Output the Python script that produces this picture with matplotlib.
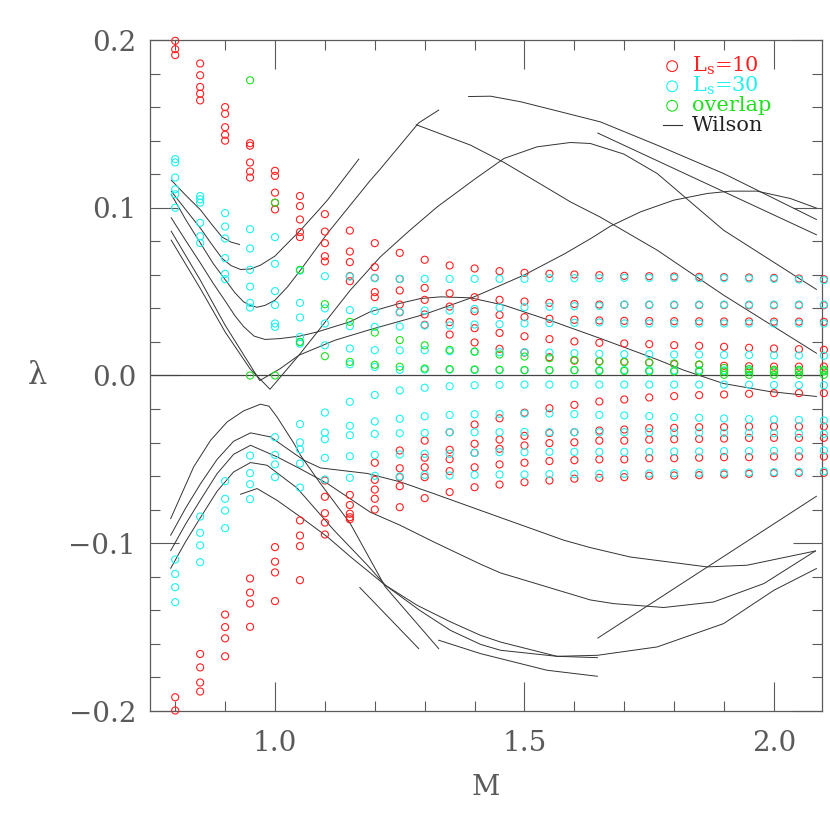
import numpy as np
import matplotlib
matplotlib.use("Agg")
import matplotlib.pyplot as plt
from matplotlib.ticker import MultipleLocator, FixedLocator

plt.rcParams['font.family'] = ['DejaVu Serif']
plt.rcParams['mathtext.fontset'] = 'dejavuserif'

# quark mass columns
M = [0.80, 0.85, 0.90, 0.95, 1.00, 1.05, 1.10, 1.15, 1.20, 1.25, 1.30, 1.35, 1.40, 1.45,
     1.50, 1.55, 1.60, 1.65, 1.70, 1.75, 1.80, 1.85, 1.90, 1.95, 2.00, 2.05, 2.10]

# Ls=10 eigenvalues, one list per M column
ls10_pos = [
    [0.1995, 0.1945, 0.191],
    [0.186, 0.179, 0.172, 0.168, 0.164],
    [0.160, 0.156, 0.148, 0.1435, 0.140],
    [0.1385, 0.137, 0.127, 0.1216, 0.118],
    [0.122, 0.119, 0.109, 0.103, 0.099],
    [0.107, 0.101, 0.093, 0.0855, 0.0825],
    [0.0962, 0.0858, 0.0789, 0.0711, 0.068],
    [0.0864, 0.0739, 0.0676, 0.0592, 0.0562],
    [0.0789, 0.0646, 0.0582, 0.0497, 0.0467],
    [0.0731, 0.0575, 0.0507, 0.0423, 0.0377],
    [0.069, 0.0522, 0.0451, 0.0364, 0.0302],
    [0.0656, 0.049, 0.0411, 0.0318, 0.0244],
    [0.0638, 0.0467, 0.0383, 0.0282, 0.0197],
    [0.0622, 0.0451, 0.0361, 0.0254, 0.0159],
    [0.0612, 0.0441, 0.0348, 0.0234, 0.0137],
    [0.0606, 0.0433, 0.0338, 0.0217, 0.0109],
    [0.0602, 0.0426, 0.0332, 0.0203, 0.0089],
    [0.0598, 0.0423, 0.0328, 0.0195, 0.0085],
    [0.0594, 0.0422, 0.0326, 0.0191, 0.0082],
    [0.0592, 0.0421, 0.0325, 0.0187, 0.0078],
    [0.059, 0.042, 0.0324, 0.0181, 0.0068],
    [0.0588, 0.042, 0.0323, 0.0177, 0.0064],
    [0.0586, 0.042, 0.0322, 0.0171, 0.0058],
    [0.0584, 0.0419, 0.0322, 0.0165, 0.0055],
    [0.0582, 0.0419, 0.0321, 0.0161, 0.0053],
    [0.0578, 0.0419, 0.0321, 0.0157, 0.0053],
    [0.0574, 0.0419, 0.032, 0.0153, 0.0053],
]
ls10_neg = [
    [-0.1918, -0.1997],
    [-0.166, -0.174, -0.183, -0.1884],
    [-0.1425, -0.150, -0.1567, -0.1674],
    [-0.121, -0.1294, -0.1359, -0.1498],
    [-0.1023, -0.111, -0.1174, -0.1345],
    [-0.0864, -0.0954, -0.1017, -0.122],
    [-0.0626, -0.0723, -0.0821, -0.0877, -0.0948],
    [-0.0712, -0.0772, -0.0824, -0.0845, -0.0857],
    [-0.052, -0.0622, -0.068, -0.0735, -0.0799],
    [-0.0447, -0.0553, -0.0606, -0.066, -0.0785],
    [-0.0388, -0.049, -0.0547, -0.0606, -0.0731],
    [-0.0338, -0.0443, -0.0499, -0.057, -0.0695],
    [-0.0292, -0.0407, -0.0461, -0.0547, -0.0666],
    [-0.0255, -0.0382, -0.0437, -0.053, -0.065],
    [-0.0222, -0.036, -0.0417, -0.052, -0.0636],
    [-0.0195, -0.0343, -0.0403, -0.051, -0.0626],
    [-0.0175, -0.0338, -0.0398, -0.0505, -0.0615],
    [-0.0155, -0.0328, -0.0388, -0.05, -0.061],
    [-0.0143, -0.0322, -0.0388, -0.05, -0.0606],
    [-0.0131, -0.0314, -0.0382, -0.0493, -0.0598],
    [-0.0123, -0.0312, -0.038, -0.0493, -0.0596],
    [-0.0117, -0.0308, -0.0378, -0.049, -0.0594],
    [-0.0113, -0.0308, -0.0376, -0.0487, -0.059],
    [-0.0109, -0.0304, -0.0372, -0.0487, -0.0586],
    [-0.0105, -0.0304, -0.0372, -0.0483, -0.0582],
    [-0.0105, -0.0304, -0.0372, -0.0483, -0.058],
    [-0.0105, -0.0304, -0.0372, -0.0483, -0.058],
]

# Ls=30 eigenvalues
ls30_pos = [
    [0.129, 0.127, 0.118, 0.111, 0.108, 0.100],
    [0.107, 0.105, 0.103, 0.091, 0.083, 0.079],
    [0.0968, 0.0888, 0.0817, 0.070, 0.0606, 0.0574],
    [0.0872, 0.0757, 0.063, 0.053, 0.0433, 0.0405],
    [0.0825, 0.0666, 0.0503, 0.042, 0.031, 0.029],
    [0.0625, 0.0433, 0.0346, 0.023, 0.020, 0.019],
    [0.0592, 0.040, 0.031, 0.018],
    [0.059, 0.039, 0.0294, 0.0161, 0.0067],
    [0.058, 0.0385, 0.029, 0.0151, 0.0051],
    [0.0576, 0.038, 0.0292, 0.015, 0.0034],
    [0.0576, 0.0387, 0.0298, 0.0151, 0.0035],
    [0.0576, 0.0387, 0.0298, 0.0145, 0.0035],
    [0.0576, 0.0397, 0.0304, 0.0141, 0.0033],
    [0.0576, 0.0405, 0.0306, 0.0139, 0.0033],
    [0.0576, 0.0407, 0.031, 0.0139, 0.0032],
    [0.058, 0.041, 0.0312, 0.0137, 0.0032],
    [0.058, 0.0413, 0.0314, 0.0133, 0.0032],
    [0.058, 0.0415, 0.0316, 0.0129, 0.0032],
    [0.0582, 0.0423, 0.031, 0.0127, 0.0032],
    [0.0582, 0.0423, 0.031, 0.0127, 0.0032],
    [0.0582, 0.0423, 0.031, 0.0125, 0.0031],
    [0.058, 0.0423, 0.031, 0.0125, 0.0031],
    [0.058, 0.0423, 0.031, 0.0123, 0.0031],
    [0.0578, 0.0423, 0.031, 0.0122, 0.003],
    [0.0576, 0.0423, 0.031, 0.012, 0.003],
    [0.0572, 0.0423, 0.031, 0.0119, 0.003],
    [0.0568, 0.0423, 0.031, 0.0118, 0.003],
]
ls30_neg = [
    [-0.1097, -0.1183, -0.1262, -0.1351],
    [-0.0841, -0.0938, -0.1012, -0.1113],
    [-0.063, -0.0735, -0.0805, -0.091],
    [-0.0477, -0.0582, -0.0648, -0.0737],
    [-0.0368, -0.0473, -0.053, -0.0606],
    [-0.029, -0.0398, -0.0441, -0.0525, -0.0668],
    [-0.0221, -0.034, -0.038, -0.0491, -0.062],
    [-0.0157, -0.030, -0.0356, -0.0481, -0.061],
    [-0.0116, -0.0274, -0.0348, -0.0473, -0.0598],
    [-0.0089, -0.0258, -0.0344, -0.0471, -0.0602],
    [-0.0073, -0.0243, -0.0342, -0.0467, -0.0592],
    [-0.0064, -0.0235, -0.0338, -0.0467, -0.0596],
    [-0.0058, -0.0231, -0.0338, -0.0461, -0.0592],
    [-0.0056, -0.0229, -0.0338, -0.0457, -0.059],
    [-0.0054, -0.0227, -0.0336, -0.0457, -0.059],
    [-0.0054, -0.0227, -0.0338, -0.0455, -0.0588],
    [-0.0054, -0.023, -0.0338, -0.0455, -0.0588],
    [-0.0054, -0.0235, -0.0338, -0.0455, -0.0586],
    [-0.0054, -0.0238, -0.0338, -0.0455, -0.0586],
    [-0.0054, -0.0242, -0.0338, -0.0455, -0.0584],
    [-0.0054, -0.0248, -0.034, -0.0453, -0.0582],
    [-0.0054, -0.0252, -0.034, -0.0453, -0.058],
    [-0.0054, -0.0256, -0.0342, -0.0451, -0.058],
    [-0.0055, -0.026, -0.0342, -0.0451, -0.0578],
    [-0.0056, -0.0262, -0.0344, -0.0449, -0.0576],
    [-0.0057, -0.0265, -0.0346, -0.0449, -0.0574],
    [-0.0058, -0.0268, -0.0348, -0.0447, -0.0571],
]

# overlap operator eigenvalues
overlap = [
    [], [], [],
    [0.176, 0.0],
    [0.103, 0.0],
    [0.063, 0.020],
    [0.0425, 0.0115],
    [0.032, 0.0081],
    [0.0256, 0.0064],
    [0.0211, 0.0052],
    [0.018, 0.0042],
    [0.0153, 0.0038],
    [0.0143, 0.0036],
    [0.0125, 0.0034],
    [0.0113, 0.0032],
    [0.0103, 0.0032],
    [0.0093, 0.0032],
    [0.0083, 0.0027],
    [0.008, 0.0027],
    [0.0077, 0.0024],
    [0.0072, 0.0024],
    [0.0066, 0.0024],
    [0.0045, 0.0024, 0.0004],
    [0.0038, 0.0024, 0.0004],
    [0.0034, 0.0024, 0.0004],
    [0.0034, 0.0024, 0.0004],
    [0.0034, 0.0024, 0.0004],
]

# Wilson flow lines, (M, lambda)
wilson_upper = [
    ([0.792, 0.821, 0.851, 0.874, 0.894, 0.912, 0.929],
     [0.1165, 0.1075, 0.0986, 0.0898, 0.0825, 0.0795, 0.0781]),
    ([0.792, 0.822, 0.851, 0.874, 0.894, 0.912, 0.931, 0.951, 0.971, 1.0, 1.018, 1.051, 1.085, 1.105, 1.168],
     [0.1099, 0.0985, 0.0876, 0.0779, 0.0698, 0.0655, 0.0632, 0.0635, 0.0658, 0.0712, 0.0767, 0.0866,
      0.0978, 0.1045, 0.129]),
    ([0.792, 0.822, 0.851, 0.876, 0.901, 0.92, 0.937, 0.95, 0.964, 0.98, 1.0, 1.025, 1.051, 1.105,
      1.191, 1.211, 1.288, 1.328],
     [0.108, 0.0925, 0.0787, 0.0668, 0.0568, 0.0492, 0.0439, 0.0418, 0.0407, 0.0418, 0.0449, 0.0528,
      0.0628, 0.0847, 0.1163, 0.1231, 0.1506, 0.1582]),
    ([1.283, 1.392, 1.459, 1.525, 1.592, 1.652, 1.766, 1.899, 2.085],
     [0.1495, 0.1373, 0.127, 0.1154, 0.1035, 0.0944, 0.0747, 0.0479, 0.0133]),
    ([1.388, 1.432, 1.492, 1.559, 1.652, 1.766, 1.899, 2.085],
     [0.1663, 0.1665, 0.1632, 0.1582, 0.1512, 0.1373, 0.1204, 0.093]),
    ([1.647, 2.085], [0.1445, 0.0839]),
    ([0.792, 0.85, 0.90, 0.95, 0.99, 1.048, 1.085, 1.151, 1.211, 1.27, 1.325, 1.40, 1.459, 1.525,
      1.592, 1.632, 1.699, 1.766, 1.899, 2.085],
     [0.0807, 0.052, 0.026, 0.004, -0.0082, 0.0121, 0.026, 0.0509, 0.0707, 0.0865, 0.1005, 0.117,
      0.1294, 0.1363, 0.1389, 0.1383, 0.132, 0.1204, 0.0866, 0.0513]),
    ([0.792, 0.85, 0.90, 0.94, 0.9695, 1.01, 1.048, 1.12, 1.191, 1.30, 1.40, 1.50, 1.58, 1.632,
      1.672, 1.733, 1.799, 1.866, 1.913, 1.966, 2.033, 2.085],
     [0.086, 0.057, 0.030, 0.011, -0.003, 0.004, 0.0121, 0.021, 0.0274, 0.0365, 0.047, 0.060, 0.0725,
      0.0815, 0.089, 0.0976, 0.1045, 0.1085, 0.1099, 0.1099, 0.1055, 0.0998]),
    ([0.792, 0.822, 0.851, 0.876, 0.90, 0.92, 0.937, 0.958, 0.98, 1.01, 1.05, 1.085, 1.15, 1.191,
      1.25, 1.292, 1.332, 1.392, 1.459, 1.559, 1.652, 1.766, 1.819, 1.899, 1.99, 2.085],
     [0.094, 0.080, 0.0668, 0.055, 0.0445, 0.0355, 0.0292, 0.0235, 0.0215, 0.022, 0.0235, 0.026,
      0.032, 0.038, 0.043, 0.0459, 0.0469, 0.0463, 0.0419, 0.032, 0.0221, 0.0095, 0.0032, -0.0048,
      -0.0095, -0.0125]),
]
wilson_lower = [
    ([0.791, 0.837, 0.871, 0.904, 0.937, 0.971, 0.988, 1.004, 1.038, 1.051, 1.091, 1.151, 1.221, 1.328],
     [-0.0853, -0.0545, -0.0386, -0.0277, -0.0211, -0.0171, -0.0183, -0.0247, -0.0405, -0.0475,
      -0.0644, -0.0883, -0.126, -0.1628]),
    ([0.791, 0.821, 0.851, 0.884, 0.917, 0.951, 0.991, 1.024, 1.058, 1.091, 1.185, 1.251, 1.318, 1.452,
      1.579, 1.632, 1.712, 1.866, 1.946, 2.083],
     [-0.0952, -0.0790, -0.0644, -0.0500, -0.0392, -0.0342, -0.0366, -0.0435, -0.0505, -0.0551, -0.0584,
      -0.0634, -0.0704, -0.0847, -0.0982, -0.1026, -0.1082, -0.1141, -0.1131, -0.1046]),
    ([0.791, 0.821, 0.851, 0.884, 0.917, 0.951, 1.004, 1.051, 1.105, 1.191, 1.251, 1.318, 1.412, 1.452,
      1.545, 1.632, 1.679, 1.779, 1.879, 1.98, 2.083],
     [-0.1044, -0.0885, -0.0740, -0.0585, -0.0470, -0.0416, -0.0485, -0.0557, -0.0644, -0.0815, -0.0893,
      -0.0992, -0.1125, -0.1177, -0.126, -0.1338, -0.136, -0.1383, -0.135, -0.124, -0.1046]),
    ([0.791, 0.821, 0.851, 0.884, 0.917, 0.951, 0.984, 1.044, 1.118, 1.185, 1.221, 1.285, 1.352, 1.412,
      1.452, 1.565, 1.646, 1.766, 1.899, 2.0, 2.085],
     [-0.1149, -0.0990, -0.0845, -0.0690, -0.0575, -0.0519, -0.0535, -0.067, -0.0922, -0.113, -0.125,
      -0.137, -0.1469, -0.1549, -0.1589, -0.1674, -0.1668, -0.1618, -0.1479, -0.128, -0.1151]),
    ([0.931, 0.964, 1.004, 1.051, 1.105, 1.151, 1.221, 1.29, 1.352, 1.412, 1.452, 1.565, 1.646],
     [-0.0708, -0.0674, -0.0744, -0.0843, -0.0962, -0.108, -0.125, -0.140, -0.152, -0.1603,
      -0.1638, -0.1674, -0.1682]),
    ([1.17, 1.288], [-0.1264, -0.1628]),
    ([1.328, 1.412, 1.545, 1.646], [-0.1578, -0.1658, -0.1757, -0.1793]),
    ([1.647, 2.085], [-0.1565, -0.072]),
]

grey = '#5a5a5a'

fig = plt.figure(figsize=(8.3, 8.3), dpi=100)
ax = fig.add_axes([150 / 830, 119 / 830, 672 / 830, 671 / 830])


def flatten(cols):
    xs, ys = [], []
    for m, vals in zip(M, cols):
        for v in vals:
            xs.append(m)
            ys.append(v)
    return xs, ys


# Wilson lines
for xs, ys in wilson_upper + wilson_lower:
    ax.plot(xs, ys, color='#333333', lw=0.7, zorder=2)

ax.axhline(0.0, color='#444444', lw=0.9, zorder=2)

# eigenvalue points
for cols, col in [(ls10_pos, '#ff2020'), (ls10_neg, '#ff2020'),
                  (ls30_pos, '#20f0f0'), (ls30_neg, '#20f0f0'),
                  (overlap, '#20e020')]:
    xs, ys = flatten(cols)
    ax.scatter(xs, ys, s=26, facecolors='none', edgecolors=col, linewidths=0.8,
               zorder=3, clip_on=False)

ax.set_xlim(0.7495, 2.0962)
ax.set_ylim(-0.2, 0.2)

ax.xaxis.set_major_locator(FixedLocator([1.0, 1.5, 2.0]))
ax.xaxis.set_minor_locator(MultipleLocator(0.1))
ax.yaxis.set_major_locator(MultipleLocator(0.1))
ax.yaxis.set_minor_locator(MultipleLocator(0.02))
ax.xaxis.set_major_formatter(plt.FuncFormatter(lambda v, p: f"{v:.1f}"))
ax.yaxis.set_major_formatter(plt.FuncFormatter(lambda v, p: f"{v:.1f}".replace('-', '\u2212')))

ax.tick_params(which='both', direction='in', top=True, right=True, colors=grey,
               labelcolor=grey, width=0.8)
ax.tick_params(which='major', length=21, labelsize=20)
ax.tick_params(which='minor', length=7.5)
ax.tick_params(axis='x', which='major', pad=14)
ax.tick_params(axis='y', which='major', pad=10)
for sp in ax.spines.values():
    sp.set_color(grey)
    sp.set_linewidth(0.9)

ax.set_xlabel('M', fontsize=20, color=grey, labelpad=12)
ax.set_ylabel('\u03bb', fontsize=22, color=grey, rotation=0, labelpad=22, va='center')

# legend drawn by hand like the original
leg = [('$\\mathrm{L_s}$=10', '#ff2020'), ('$\\mathrm{L_s}$=30', '#20f0f0'), ('overlap', '#20e020')]
ys_leg = [0.961, 0.931, 0.902]
for (lab, col), yy in zip(leg, ys_leg):
    ax.scatter([0.777], [yy], s=60, facecolors='none', edgecolors=col, linewidths=0.8,
               transform=ax.transAxes, zorder=4)
    ax.text(0.806, yy, lab, color=col, fontsize=15, va='center', ha='left',
            transform=ax.transAxes)
ax.plot([0.763, 0.792], [0.873, 0.873], color='#333333', lw=0.8, transform=ax.transAxes)
ax.text(0.806, 0.873, 'Wilson', color='#222222', fontsize=15, va='center', ha='left',
        transform=ax.transAxes)

fig.savefig('out.png', dpi=100)
